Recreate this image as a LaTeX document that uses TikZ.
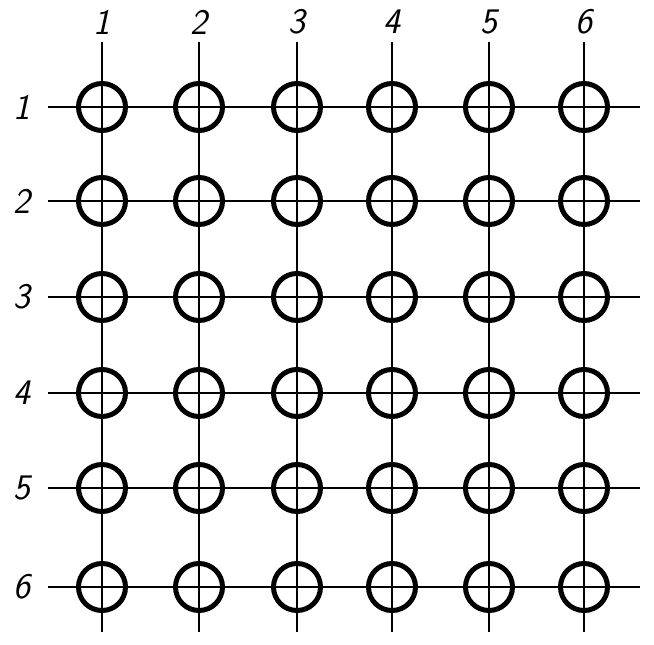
\documentclass[tikz,border=0pt]{standalone}
\usepackage{amsmath}
\usepackage{tikz}

\begin{document}
\begin{tikzpicture}[x=1pt, y=-1pt,
    hole/.style={circle, draw, line width=5pt, minimum size=47pt, inner sep=0pt},
    gridline/.style={line width=2.4pt},
    lab/.style={font=\fontsize{36}{40}\sffamily\slshape\selectfont}]
    % 画布范围
    \useasboundingbox (0,0) rectangle (654,645);

    % 列与行的位置
    \def\colx{{0,102,199,297,392,489,584}}
    \def\rowy{{0,107,201,297,393,488,587}}

    % 线的端点与编号
    \foreach \j in {1,...,6} {
        \pgfmathsetmacro{\cx}{\colx[\j]}
        \pgfmathsetmacro{\ry}{\rowy[\j]}
        \coordinate (top\j) at (\cx, 42);
        \coordinate (bot\j) at (\cx, 632);
        \coordinate (left\j) at (48, \ry);
        \coordinate (right\j) at (640, \ry);
        \node[lab] (clab\j) at (\cx, 22) {\j};
        \node[lab] (rlab\j) at (22, \ry) {\j};
    }

    % 网格线
    \foreach \j in {1,...,6} {
        \draw[gridline] (top\j) -- (bot\j);
        \draw[gridline] (left\j) -- (right\j);
    }

    % 圆圈
    \foreach \i in {1,...,6} {
        \foreach \j in {1,...,6} {
            \pgfmathsetmacro{\cx}{\colx[\j]}
            \pgfmathsetmacro{\ry}{\rowy[\i]}
            \node[hole] (h\i\j) at (\cx, \ry) {};
        }
    }
\end{tikzpicture}
\end{document}
